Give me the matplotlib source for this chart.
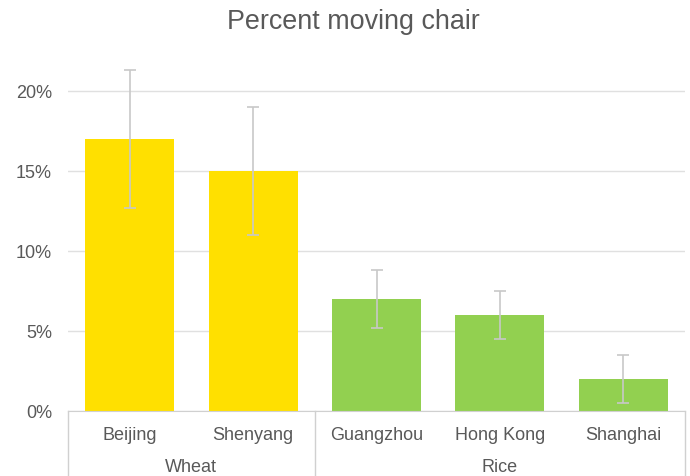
import matplotlib.pyplot as plt
from matplotlib.ticker import FuncFormatter
import matplotlib.transforms as mtransforms

cities = ["Beijing", "Shenyang", "Guangzhou", "Hong Kong", "Shanghai"]
groups = ["Wheat", "Wheat", "Rice", "Rice", "Rice"]
values = [17, 15, 7, 6, 2]
errors = [4.3, 4.0, 1.8, 1.5, 1.5]
colors = ["#FFE000", "#FFE000", "#92D050", "#92D050", "#92D050"]

plt.rcParams["font.family"] = ["Liberation Sans", "DejaVu Sans"]
text_color = "#595959"

fig = plt.figure(figsize=(6.9, 4.77), dpi=100)
ax = fig.add_axes([68 / 690, 65 / 477, 617 / 690, 360 / 477])

x = list(range(len(cities)))
ax.bar(x, values, width=0.72, color=colors, zorder=2)
ax.errorbar(x, values, yerr=errors, fmt="none", ecolor="#c8c8c8",
            elinewidth=1.2, capsize=4, capthick=1.2, zorder=3)

ax.set_xlim(-0.5, len(cities) - 0.5)
ax.set_ylim(0, 22.5)
ax.set_yticks([0, 5, 10, 15, 20])
ax.yaxis.set_major_formatter(FuncFormatter(lambda v, p: f"{v:.0f}%"))
ax.grid(axis="y", color="#e0e0e0", linewidth=1, zorder=0)
ax.tick_params(axis="y", length=0, labelsize=13, colors=text_color, pad=11.5)
ax.set_xticks([])
for s in ["top", "right", "left"]:
    ax.spines[s].set_visible(False)
ax.spines["bottom"].set_color("#d0d0d0")

# title is centred on the whole chart, not the plot area
fig.text(353 / 690, 1 - 22 / 477, "Percent moving chair", fontsize=19.4,
         color=text_color, ha="center", va="center")

# category labels below the axis
trans = mtransforms.blended_transform_factory(ax.transData, ax.transAxes)
for i, c in enumerate(cities):
    ax.text(i, -24 / 360, c, transform=trans, ha="center", va="center",
            fontsize=13, color=text_color)

# group labels and separators
start = 0
bounds = []
for i in range(1, len(groups) + 1):
    if i == len(groups) or groups[i] != groups[start]:
        mid = (start + i - 1) / 2
        ax.text(mid, -56 / 360, groups[start], transform=trans, ha="center",
                va="center", fontsize=13, color=text_color)
        bounds.append(start - 0.5)
        start = i
bounds.append(len(groups) - 0.5)
for b in bounds:
    ax.plot([b, b], [0, -65 / 360], transform=trans, color="#d0d0d0",
            linewidth=1, clip_on=False)

fig.savefig("out.png", dpi=100)
